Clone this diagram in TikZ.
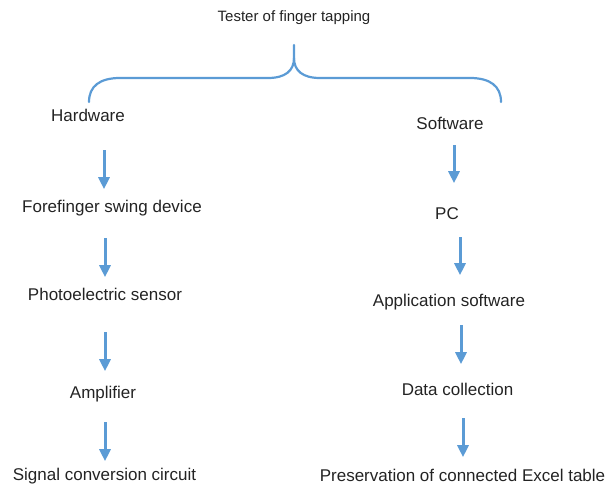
\documentclass[tikz,border=0pt]{standalone}
\usepackage{fontspec}
\setmainfont{Liberation Sans}
\usetikzlibrary{arrows.meta}
\definecolor{azulseta}{RGB}{91,155,213}
\definecolor{texto}{RGB}{35,35,35}
\begin{document}
\begin{tikzpicture}
	[x=1pt, y=-1pt,
	rotulo/.style	={anchor=base, inner sep=0pt, text depth=0pt, text=texto, font=\fontsize{17}{20}\selectfont},
	titulo/.style	={rotulo, font=\fontsize{15}{18}\selectfont},
	seta/.style		={draw=azulseta, line width=3pt, -{Triangle[width=11pt,length=12pt]}},
	chave/.style	={draw=azulseta, line width=2.2pt, line cap=round},]
	\useasboundingbox (0,0) rectangle (616,484);
	\node[titulo]	(tit)	at (294,22)		{Tester of finger tapping};
	\coordinate		(ponta)	at (294,45);
	% chave
	\draw[chave] (ponta) -- (294,58) .. controls (294,71) and (285,78) .. (268,78) -- (120,78) .. controls (100,78) and (89,86) .. (89,102);
	\draw[chave] (294,58) .. controls (294,71) and (303,78) .. (320,78) -- (470,78) .. controls (490,78) and (501,86) .. (501,102);
	% hardware
	\node[rotulo]	(hw)	at (88,122)		{Hardware};
	\node[rotulo]	(fsd)	at (112,212)	{Forefinger swing device};
	\node[rotulo]	(pes)	at (105,300)	{Photoelectric sensor};
	\node[rotulo]	(amp)	at (103,398)	{Amplifier};
	\node[rotulo]	(scc)	at (104.5,480)	{Signal conversion circuit};
	% software
	\node[rotulo]	(sw)	at (450,130)	{Software};
	\node[rotulo]	(pc)	at (447,219)	{PC};
	\node[rotulo]	(app)	at (449,306)	{Application software};
	\node[rotulo]	(dc)	at (457.5,395)	{Data collection};
	\node[rotulo]	(pec)	at (462.5,481)	{Preservation of connected Excel table};
	% setas
	\draw[seta] (hw.south -| 104,0) ++(0,28) -- ++(0,39);
	\draw[seta] (fsd.south -| 105,0) ++(0,26) -- ++(0,39);
	\draw[seta] (pes.south -| 105,0) ++(0,32) -- ++(0,39);
	\draw[seta] (amp.south -| 105,0) ++(0,24) -- ++(0,39);
	\draw[seta] (sw.south -| 454,0) ++(0,15) -- ++(0,38);
	\draw[seta] (pc.south -| 460,0) ++(0,18) -- ++(0,38);
	\draw[seta] (app.south -| 461,0) ++(0,19) -- ++(0,39);
	\draw[seta] (dc.south -| 463,0) ++(0,23) -- ++(0,39);
\end{tikzpicture}
\end{document}
